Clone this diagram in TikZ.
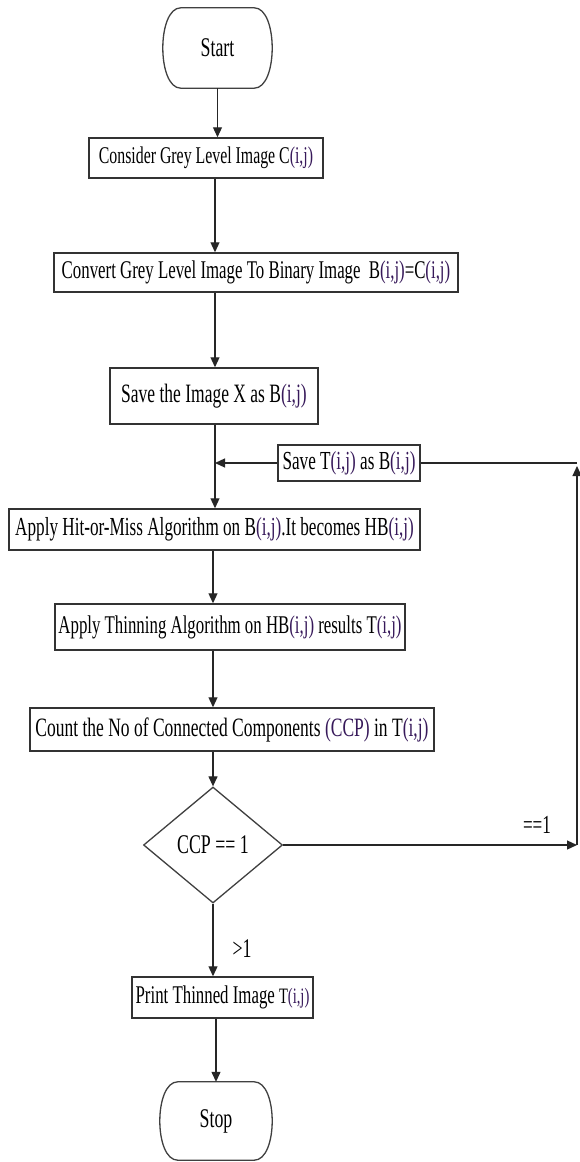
\documentclass[tikz,border=0pt]{standalone}
\usepackage{fontspec}
\usetikzlibrary{arrows.meta,shapes.geometric}
\newfontfamily\tnr{Liberation Serif}[FakeStretch=0.66]
\definecolor{ijc}{RGB}{55,25,90}
\newcommand\pij{\textcolor{ijc}{(i,j)}}
\newcommand\fsz[1]{\tnr\fontsize{#1}{#1}\selectfont}
\tikzset{
  box/.style={draw=black!80, line width=1.5pt, inner sep=0pt, align=center, fill=white},
  arr/.style={-{Triangle[length=10pt,width=9pt]}, line width=1.2pt, draw=black!85},
  plain/.style={line width=1.2pt, draw=black!85},
  termline/.style={draw=black!75, line width=1.3pt}
}
\begin{document}
\begin{tikzpicture}[x=1pt,y=-1pt]
\useasboundingbox (0,0) rectangle (579,1162);
\fill[white] (0,0) rectangle (579,1162);
% terminals
\node[inner sep=0pt, minimum width=109, minimum height=80, font=\fsz{27}] (start) at (217.5,48) {Start};
\node[inner sep=0pt, minimum width=112, minimum height=78, font=\fsz{27}] (stop) at (216,1121) {Stop};
\foreach \t in {start,stop}{
  \draw[termline] ([xshift=18pt]\t.north west) -- ([xshift=-18pt]\t.north east)
    .. controls ([xshift=6pt]\t.north east) and ([xshift=6pt]\t.south east) .. ([xshift=-18pt]\t.south east)
    -- ([xshift=18pt]\t.south west)
    .. controls ([xshift=-6pt]\t.south west) and ([xshift=-6pt]\t.north west) .. ([xshift=18pt]\t.north west) -- cycle;
}
% process boxes
\node[box, minimum width=234, minimum height=40, font=\fsz{24}] (b1) at (206,158) {Consider Grey Level Image C\pij};
\node[box, minimum width=404, minimum height=39, font=\fsz{25.5}] (b2) at (256,272.5) {Convert Grey Level Image To Binary Image\hspace{4pt} B\pij=C\pij};
\node[box, minimum width=208, minimum height=56, font=\fsz{26.5}] (b3) at (214,396) {Save the Image X as B\pij};
\node[box, minimum width=142, minimum height=36, font=\fsz{26}] (sv) at (349,463) {Save T\pij\ as B\pij};
\node[box, minimum width=411, minimum height=41, font=\fsz{26}] (b4) at (214.5,529.5) {Apply Hit-or-Miss Algorithm on B\pij.It becomes HB\pij};
\node[box, minimum width=350, minimum height=46, font=\fsz{25.5}] (b5) at (230,627) {Apply Thinning Algorithm on HB\pij\ results T\pij};
\node[box, minimum width=404, minimum height=43, font=\fsz{26.5}] (b6) at (232,729.5) {Count the No of Connected Components \textcolor{ijc}{(CCP)} in T\pij};
\node[draw=black!75, line width=1.3pt, shape=diamond, aspect=1.2, inner sep=0pt, minimum width=139, minimum height=116, font=\fsz{27}] (dec) at (213,845) {CCP == 1};
\node[box, minimum width=181, minimum height=41, font=\fsz{25.5}] (pr) at (222.5,997.5) {Print Thinned Image {\fsz{22}T\pij}};
% labels
\node[inner sep=0pt, font=\fsz{26}] (l1) at (537,825) {==1};
\node[inner sep=0pt, font=\fsz{27}] (l2) at (242,949) {>1};
% columns
\coordinate (c1) at (215,0);
\coordinate (c2) at (213,0);
\coordinate (rr) at (577,0);
\coordinate (rtop) at (577,466);
% connectors
\draw[arr] (start.south) -- (start.south |- b1.north);
\draw[arr] (b1.south -| c1) -- (b2.north -| c1);
\draw[arr] (b2.south -| c1) -- (b3.north -| c1);
\draw[arr] (b3.south -| c1) -- (b4.north -| c1);
\draw[arr] (sv.west) -- (sv.west -| c1);
\draw[arr] (b4.south -| c2) -- (b5.north -| c2);
\draw[arr] (b5.south -| c2) -- (b6.north -| c2);
\draw[arr] (b6.south -| c2) -- (dec.north);
\draw[arr] (dec.east) -- (dec.east -| rr);
\draw[arr] (dec.east -| rr) -- (rtop);
\draw[plain] (sv.east) -- (sv.east -| rr);
\draw[arr] (dec.south) -- (dec.south |- pr.north);
\draw[arr] (stop.north |- pr.south) -- (stop.north);
\end{tikzpicture}
\end{document}
